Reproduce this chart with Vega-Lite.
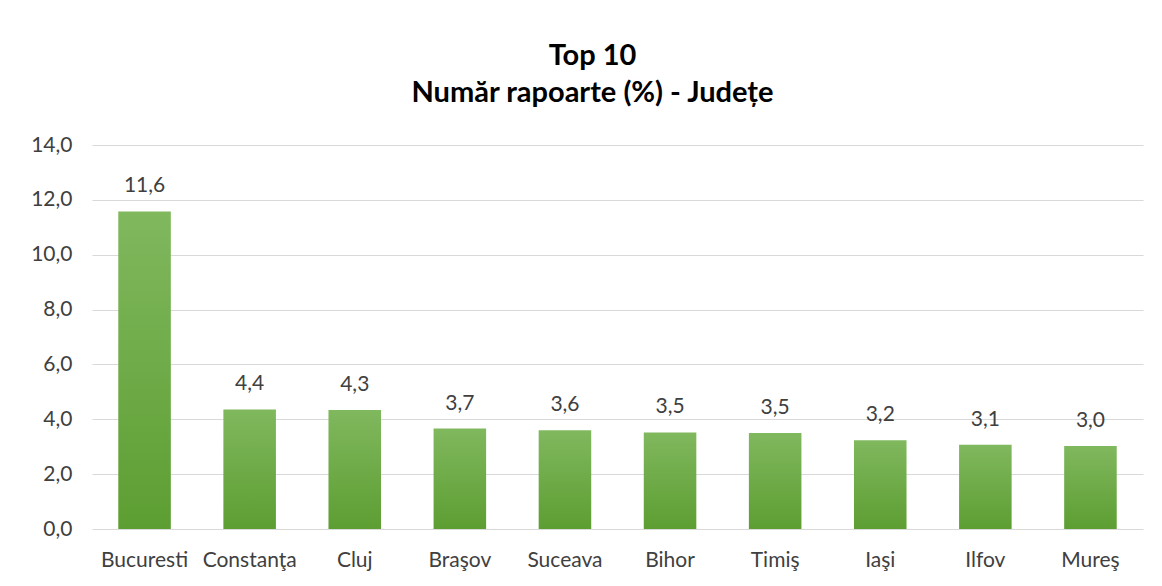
{
  "$schema": "https://vega.github.io/schema/vega-lite/v6.json",
  "autosize": {"type": "none"},
  "width": 1051,
  "height": 384,
  "padding": {"left": 92, "top": 145, "right": 19, "bottom": 57},
  "background": "white",
  "title": {
    "text": ["Top 10", "Număr rapoarte (%) - Județe"],
    "font": "Lato",
    "fontSize": 29,
    "fontWeight": "bold",
    "color": "#000000",
    "lineHeight": 37,
    "anchor": "middle",
    "frame": "group",
    "dx": -25,
    "offset": 26
  },
  "data": {
    "values": [
      {"judet": "Bucuresti", "procent": 11.58},
      {"judet": "Constanţa", "procent": 4.36},
      {"judet": "Cluj", "procent": 4.34},
      {"judet": "Braşov", "procent": 3.66},
      {"judet": "Suceava", "procent": 3.6},
      {"judet": "Bihor", "procent": 3.52},
      {"judet": "Timiş", "procent": 3.5},
      {"judet": "Iaşi", "procent": 3.24},
      {"judet": "Ilfov", "procent": 3.07},
      {"judet": "Mureş", "procent": 3.03}
    ]
  },
  "encoding": {
    "x": {
      "field": "judet",
      "type": "nominal",
      "sort": null,
      "scale": {"paddingInner": 0.5, "paddingOuter": 0.25},
      "axis": {
        "title": null,
        "labelAngle": 0,
        "labelFont": "Lato",
        "labelFontSize": 21,
        "labelColor": "#404040",
        "labelPadding": 20,
        "labelOverlap": false,
        "ticks": false,
        "domain": false
      }
    },
    "y": {
      "field": "procent",
      "type": "quantitative",
      "scale": {"domain": [0, 14], "nice": false},
      "axis": {
        "title": null,
        "values": [0, 2, 4, 6, 8, 10, 12, 14],
        "format": ".1f",
        "labelFont": "Lato",
        "labelFontSize": 21,
        "labelColor": "#404040",
        "labelPadding": 20,
        "ticks": false,
        "domain": false,
        "grid": true,
        "gridColor": "#d9d9d9",
        "gridWidth": 1
      }
    }
  },
  "layer": [
    {
      "mark": {
        "type": "bar",
        "color": {
          "gradient": "linear",
          "x1": 0, "y1": 0, "x2": 0, "y2": 1,
          "stops": [
            {"offset": 0, "color": "#80b85e"},
            {"offset": 1, "color": "#5d9e32"}
          ]
        }
      }
    },
    {
      "mark": {
        "type": "text",
        "font": "Lato",
        "fontSize": 21,
        "color": "#404040",
        "baseline": "alphabetic",
        "dy": -19
      },
      "encoding": {
        "text": {"field": "procent", "type": "quantitative", "format": ".1f"}
      }
    }
  ],
  "config": {
    "view": {"stroke": null},
    "locale": {
      "number": {
        "decimal": ",",
        "thousands": ".",
        "grouping": [3],
        "currency": ["", " lei"]
      }
    }
  }
}
